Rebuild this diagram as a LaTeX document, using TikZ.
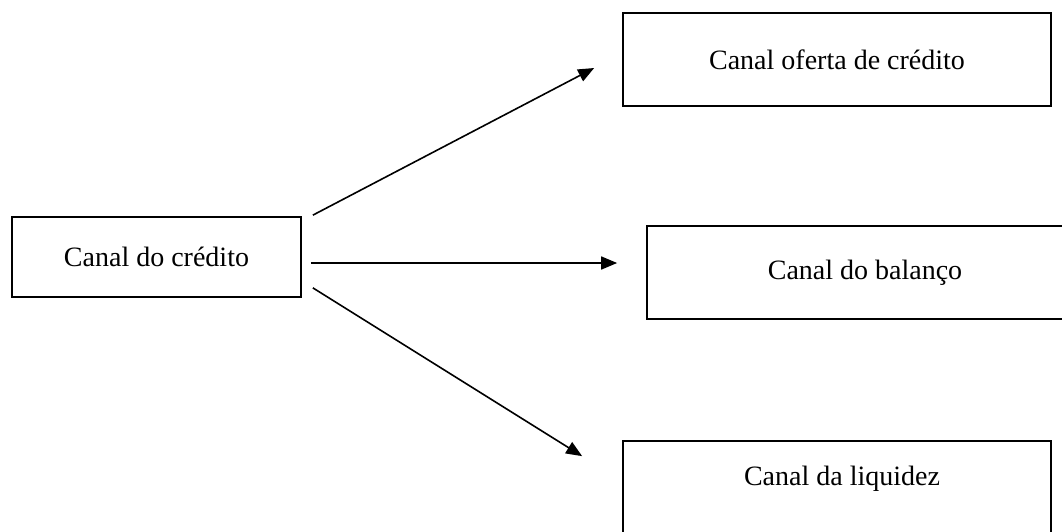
\documentclass[tikz,border=0pt]{standalone}
\usepackage{fontspec}
\setmainfont{Liberation Serif}
\usetikzlibrary{arrows.meta,calc}
\begin{document}
\begin{tikzpicture}[x=1pt,y=-1pt,
  box/.style={draw=black,line width=1.7pt,inner sep=0pt,rectangle},
  lbl/.style={font=\fontsize{28}{34}\selectfont,inner sep=0pt},
  arr/.style={draw=black,line width=1.6pt,-{Triangle[length=16pt,width=13pt]}}]
\useasboundingbox (0,0) rectangle (1062,531);
\clip (0,0) rectangle (1062,531);
\fill[white] (0,0) rectangle (1062,531);
% boxes
\node[box,minimum width=289pt,minimum height=80pt,lbl] (credito) at (156.5,257) {Canal do crédito};
\node[box,minimum width=428pt,minimum height=93pt,lbl] (oferta) at (837,59.5) {Canal oferta de crédito};
\node[box,minimum width=436pt,minimum height=93pt,lbl] (balanco) at (865,272.5) {Canal do balanço};
\node[box,minimum width=428pt,minimum height=130pt] (liquidez) at (837,506) {};
\node[lbl] (liqtext) at (842,479) {Canal da liquidez};
% arrows
\draw[arr] ($(credito.north east)+(11,-1)$) -- ($(oferta.west)+(-28,8.5)$);
\draw[arr] ($(credito.east)+(9,6)$) -- ($(balanco.west)+(-29,-9.5)$);
\draw[arr] ($(credito.south east)+(11,-10)$) -- ($(liquidez.north west)+(-40,16)$);
\end{tikzpicture}
\end{document}
